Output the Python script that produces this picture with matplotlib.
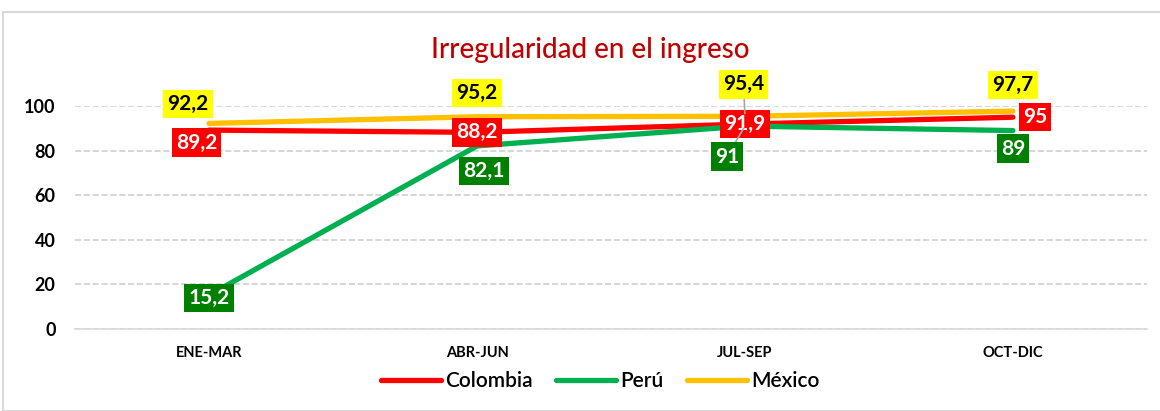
import matplotlib.pyplot as plt
from matplotlib.patches import Rectangle

plt.rcParams['font.family'] = ['Lato', 'DejaVu Sans']

periodos = ["ENE-MAR", "ABR-JUN", "JUL-SEP", "OCT-DIC"]
colombia = [89.2, 88.2, 91.9, 95]
peru = [15.2, 82.1, 91, 89]
mexico = [92.2, 95.2, 95.4, 97.7]

fig = plt.figure(figsize=(11.6, 4.11), dpi=100)
ax = fig.add_axes([0.0647, 0.1995, 0.924, 0.5425])

x = range(len(periodos))
series = [
    ("Colombia", colombia, "#FF0000", "#FF0000", "white"),
    ("Perú", peru, "#00B050", "#008000", "white"),
    ("México", mexico, "#FFC000", "#FFFF00", "black"),
]
for name, vals, col, boxcol, txtcol in series:
    ax.plot(x, vals, color=col, lw=3.8, solid_capstyle='round', label=name, clip_on=False)

# label offsets in points (dx, dy), positive dy = up
offsets = {
    "Colombia": [(-9, -9), (0, 0), (0, 0), (16, 0)],
    "Perú": [(0, -2), (5, -18), (-13, -22), (0, -13)],
    "México": [(-15, 14), (0, 17), (-1, 23), (0, 19)],
}
leaders = {("México", 2), ("Perú", 2)}
for name, vals, col, boxcol, txtcol in series:
    for i, v in enumerate(vals):
        dx, dy = offsets[name][i]
        lbl = ("%g" % v).replace(".", ",")
        ap = None
        if (name, i) in leaders:
            ap = dict(arrowstyle='-', color='#A6A6A6', lw=1.2, shrinkA=0, shrinkB=2)
        ax.annotate(lbl, (i, v), xytext=(dx, dy), textcoords='offset points',
                    ha='center', va='center', fontsize=15, fontweight='bold',
                    color=txtcol, annotation_clip=False, arrowprops=ap,
                    bbox=dict(boxstyle='square,pad=0.2', fc=boxcol, ec='none'),
                    zorder=5)

ax.set_xlim(-0.5, 3.5)
ax.set_ylim(0, 100)
ax.set_yticks(range(0, 101, 20))
ax.set_xticks(list(x))
ax.set_xticklabels(periodos, fontsize=10.5, fontweight='bold')
ax.tick_params(axis='y', labelsize=13, length=0, pad=14)
ax.tick_params(axis='x', length=0, pad=12)
for t in ax.get_yticklabels():
    t.set_fontweight('bold')
ax.grid(axis='y', color='#D0D0D0', ls='--', lw=1.2)
ax.set_axisbelow(True)
for s in ['top', 'right', 'left']:
    ax.spines[s].set_visible(False)
ax.spines['bottom'].set_color('#D9D9D9')
ax.spines['bottom'].set_linewidth(1.2)

fig.text(0.509, 0.878, "Irregularidad en el ingreso", ha='center', va='center',
         fontsize=20, fontweight='medium', color='#C00000')

leg = ax.legend(loc='center', bbox_to_anchor=(0.49, -0.235), ncol=3, frameon=False,
                prop={'size': 15, 'weight': 'semibold'},
                handlelength=2.9, handletextpad=0.2, columnspacing=1.1)
for h in leg.get_lines():
    h.set_solid_capstyle('round')

fig.add_artist(Rectangle((0.003, 0.0), 1.0, 0.971, transform=fig.transFigure,
                         fill=False, ec='#D9D9D9', lw=1.5))

fig.savefig("out.png", dpi=100)
